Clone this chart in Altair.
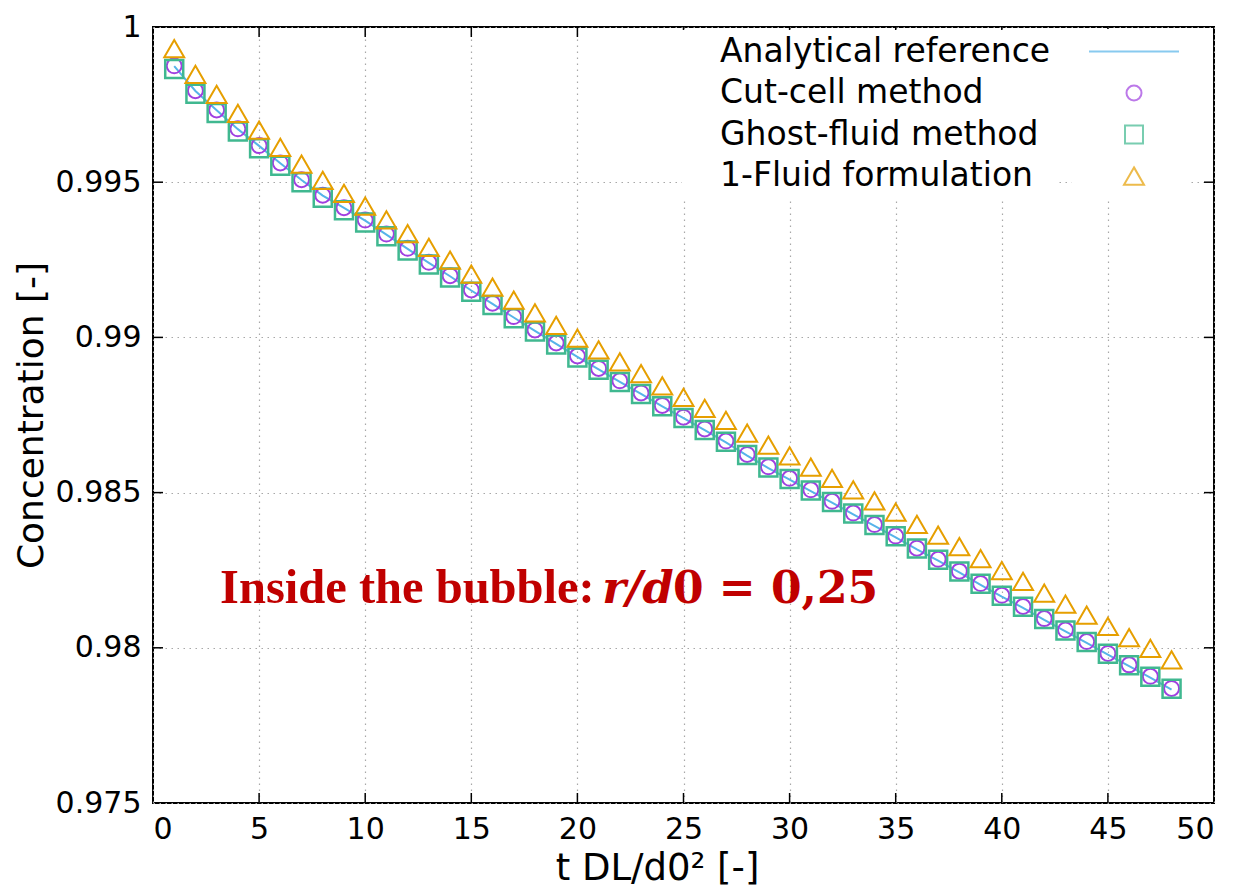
import altair as alt
import pandas as pd

# ---------------- data ----------------
t_values = list(range(1, 49))

analytical = [0.99874, 0.99794, 0.99732, 0.99671, 0.99617, 0.99561, 0.99507, 0.99457,
              0.99417, 0.99376, 0.99331, 0.99285, 0.99240, 0.99197, 0.99151, 0.99108,
              0.99064, 0.99021, 0.98979, 0.98937, 0.98897, 0.98857, 0.98818, 0.98778,
              0.98740, 0.98701, 0.98662, 0.98619, 0.98579, 0.98542, 0.98505, 0.98468,
              0.98430, 0.98393, 0.98356, 0.98317, 0.98281, 0.98243, 0.98203, 0.98165,
              0.98129, 0.98090, 0.98053, 0.98016, 0.97978, 0.97941, 0.97904, 0.97865]

cut_cell = [0.99875, 0.99795, 0.99733, 0.99672, 0.99618, 0.99562, 0.99508, 0.99458,
            0.99418, 0.99378, 0.99333, 0.99287, 0.99242, 0.99199, 0.99153, 0.99110,
            0.99067, 0.99024, 0.98982, 0.98940, 0.98900, 0.98860, 0.98821, 0.98781,
            0.98743, 0.98705, 0.98666, 0.98623, 0.98583, 0.98546, 0.98509, 0.98472,
            0.98434, 0.98397, 0.98360, 0.98321, 0.98285, 0.98247, 0.98207, 0.98169,
            0.98133, 0.98094, 0.98057, 0.98020, 0.97982, 0.97945, 0.97908, 0.97869]

ghost_fluid = [0.99865, 0.99785, 0.99723, 0.99663, 0.99609, 0.99553, 0.99500, 0.99450,
               0.99410, 0.99370, 0.99326, 0.99280, 0.99235, 0.99193, 0.99147, 0.99104,
               0.99062, 0.99019, 0.98977, 0.98935, 0.98896, 0.98856, 0.98818, 0.98778,
               0.98740, 0.98702, 0.98664, 0.98621, 0.98581, 0.98544, 0.98507, 0.98470,
               0.98433, 0.98396, 0.98359, 0.98320, 0.98284, 0.98246, 0.98206, 0.98168,
               0.98132, 0.98093, 0.98056, 0.98019, 0.97981, 0.97944, 0.97907, 0.97868]

one_fluid = [0.99930, 0.99847, 0.99783, 0.99722, 0.99668, 0.99612, 0.99558, 0.99506,
             0.99464, 0.99423, 0.99379, 0.99334, 0.99290, 0.99249, 0.99204, 0.99162,
             0.99120, 0.99079, 0.99039, 0.98998, 0.98960, 0.98921, 0.98883, 0.98844,
             0.98807, 0.98771, 0.98733, 0.98692, 0.98653, 0.98618, 0.98582, 0.98546,
             0.98509, 0.98473, 0.98437, 0.98398, 0.98363, 0.98326, 0.98287, 0.98249,
             0.98214, 0.98176, 0.98141, 0.98105, 0.98069, 0.98033, 0.97998, 0.97961]

series_names = ["Analytical reference", "Cut-cell method", "Ghost-fluid method", "1-Fluid formulation"]
series_colors = ["#56B4E9", "#A040E0", "#40B890", "#E69F00"]
# line sample, circle, square, triangle (custom paths are scaled by sqrt(size)/2)
series_shapes = ["M-6,0H6", "circle", "M-1.2,-1.2H1.2V1.2H-1.2Z", "M0,-1.15L1.33,1.15L-1.33,1.15Z"]

x_ticks = [0, 5, 10, 15, 20, 25, 30, 35, 40, 45, 50]
y_ticks = [0.975, 0.98, 0.985, 0.99, 0.995, 1.0]
x_inner_ticks = [5, 10, 15, 20, 25, 30, 35, 40, 45]
y_inner_ticks = [0.98, 0.985, 0.99, 0.995]

annot_text = ["Inside the bubble:", "r/d", "0 = 0,25"]
annot_x = [3.16, 21.17, 24.5]
annot_y = [0.98145, 0.98145, 0.98145]

# ---------------- tables ----------------
def series_df(name, vals):
    return pd.DataFrame({"t": t_values, "c": vals, "series": name, "label": name})

df_an = series_df(series_names[0], analytical)
df_cc = series_df(series_names[1], cut_cell)
df_gf = series_df(series_names[2], ghost_fluid)
df_of = series_df(series_names[3], one_fluid)
df_xt = pd.DataFrame({"v": x_inner_ticks})
df_yt = pd.DataFrame({"v": y_inner_ticks})
df_an_txt = pd.DataFrame({"text": annot_text, "x": annot_x, "y": annot_y})

W, H = 1061, 776

xscale = alt.Scale(domain=[0, 50], nice=False)
yscale = alt.Scale(domain=[0.975, 1.0], nice=False)

GRID = dict(grid=True, gridDash=[1.5, 4.5], gridColor="#a8a8a8", gridWidth=1.2)
x_axis = alt.Axis(values=x_ticks, ticks=False, domain=False, labelFont="DejaVu Sans",
                  labelFontSize=30, labelColor="black", labelPadding=11,
                  titleFont="DejaVu Sans", titleFontSize=37, titleFontWeight="normal",
                  titleColor="black", titlePadding=6, titleX=504, **GRID)
y_axis = alt.Axis(values=y_ticks, format=".3~f", ticks=False, domain=False,
                  labelFont="DejaVu Sans", labelFontSize=30, labelColor="black",
                  labelPadding=12, titleFont="DejaVu Sans", titleFontSize=36,
                  titleFontWeight="normal", titleColor="black", titlePadding=5, **GRID)

# legend with the samples (labels blank) on the right
leg_sym = alt.Legend(title=None, orient="none", legendX=918.5, legendY=2, padding=6,
                     fillColor="white", labelFont="DejaVu Sans", labelFontSize=33,
                     labelExpr="'      '", labelLimit=1000, symbolSize=225,
                     symbolStrokeWidth=2, symbolFillColor="transparent",
                     symbolOffset=40, rowPadding=7.5)
# legend with the texts on the left of the samples
leg_txt = alt.Legend(title=None, orient="none", legendX=529, legendY=3, padding=5,
                     fillColor="white", labelFont="DejaVu Sans", labelFontSize=33,
                     labelColor="black", labelLimit=1000, labelOffset=0,
                     labelExpr="datum.label + '    '",
                     symbolSize=1, symbolOpacity=0, symbolStrokeWidth=0, rowPadding=7.5)

color_enc = alt.Color("series:N", scale=alt.Scale(domain=series_names, range=series_colors), legend=leg_sym)
shape_enc = alt.Shape("series:N", scale=alt.Scale(domain=series_names, range=series_shapes), legend=leg_sym)
opac_enc = alt.Opacity("label:N", sort=series_names,
                       scale=alt.Scale(type="ordinal", range=[1, 1, 1, 1]), legend=leg_txt)

X = alt.X("t:Q", scale=xscale, axis=x_axis, title="t DL/d0² [-]")
Y = alt.Y("c:Q", scale=yscale, axis=y_axis, title="Concentration [-]")

line = alt.Chart(df_an).mark_line(strokeWidth=2).encode(x=X, y=Y, color=color_enc, opacity=opac_enc)

def points(df, sw):
    return alt.Chart(df).mark_point(filled=False, strokeWidth=sw, size=225).encode(
        x=alt.X("t:Q"), y=alt.Y("c:Q"), color=color_enc, shape=shape_enc, opacity=opac_enc)

p_cc = points(df_cc, 2)
p_gf = points(df_gf, 2.5)
p_of = points(df_of, 2)

tick_col = "black"
xt_bottom = alt.Chart(df_xt).mark_rule(color=tick_col, strokeWidth=1.5).encode(
    x=alt.X("v:Q"), y=alt.value(H), y2=alt.value(H - 10))
xt_top = alt.Chart(df_xt).mark_rule(color=tick_col, strokeWidth=1.5).encode(
    x=alt.X("v:Q"), y=alt.value(0), y2=alt.value(10))
yt_left = alt.Chart(df_yt).mark_rule(color=tick_col, strokeWidth=1.5).encode(
    y=alt.Y("v:Q"), x=alt.value(0), x2=alt.value(10))
yt_right = alt.Chart(df_yt).mark_rule(color=tick_col, strokeWidth=1.5).encode(
    y=alt.Y("v:Q"), x=alt.value(W - 10), x2=alt.value(W))

txt1 = alt.Chart(df_an_txt.iloc[[0]]).mark_text(
    align="left", baseline="alphabetic", font="Liberation Serif", fontWeight="bold",
    fontSize=48.5, color="#C00000").encode(x=alt.X("x:Q"), y=alt.Y("y:Q"), text="text:N")
txt2 = alt.Chart(df_an_txt.iloc[[1]]).mark_text(
    align="left", baseline="alphabetic", font="DejaVu Serif", fontWeight="bold",
    fontStyle="italic", fontSize=45, color="#C00000").encode(
    x=alt.X("x:Q"), y=alt.Y("y:Q"), text="text:N")
txt3 = alt.Chart(df_an_txt.iloc[[2]]).mark_text(
    align="left", baseline="alphabetic", font="DejaVu Serif", fontWeight="bold",
    fontSize=44, color="#C00000").encode(x=alt.X("x:Q"), y=alt.Y("y:Q"), text="text:N")

chart = alt.layer(line, p_cc, p_gf, p_of, xt_bottom, xt_top, yt_left, yt_right,
                  txt1, txt2, txt3).properties(
    width=W, height=H,
    padding={"left": 145, "top": 19, "right": 20, "bottom": 88},
    autosize=alt.AutoSizeParams(type="none"),
    background="white",
).configure_view(stroke="black", strokeWidth=2)

chart.save("out.html", embed_options={"renderer": "svg", "actions": False})
